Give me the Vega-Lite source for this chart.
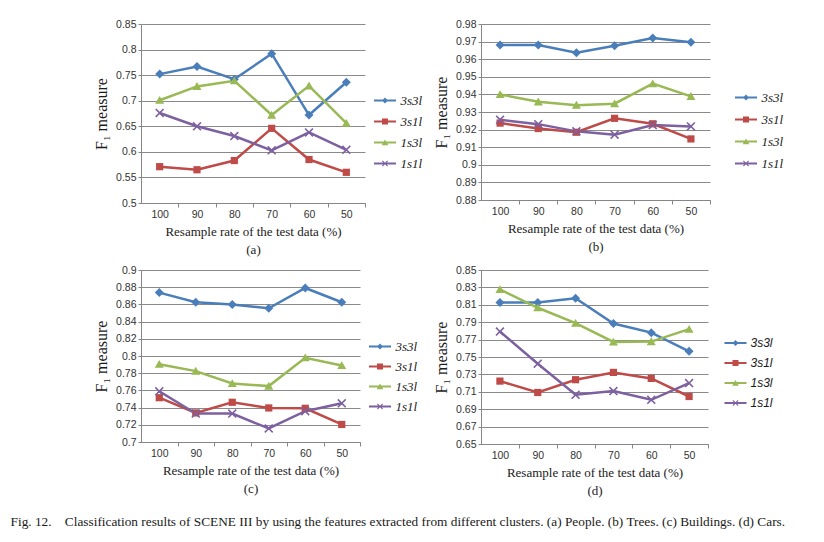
{
  "$schema": "https://vega.github.io/schema/vega-lite/v6.json",
  "padding": {"left": 10, "top": 19, "right": 5, "bottom": 5},
  "config": {
    "view": {"stroke": null},
    "font": "Liberation Serif",
    "axis": {
      "domainColor": "#868686", "tickColor": "#868686", "gridColor": "#8a8a8a",
      "labelFont": "Liberation Sans", "labelFontSize": 10.5, "labelColor": "#333333",
      "titleFont": "Liberation Serif", "titleFontWeight": "normal", "titleColor": "#1a1a1a"
    }
  },
  "datasets": {
    "a": [
      {"rate": 100, "series": "3s3l", "f1": 0.752}, {"rate": 90, "series": "3s3l", "f1": 0.767}, {"rate": 80, "series": "3s3l", "f1": 0.742}, {"rate": 70, "series": "3s3l", "f1": 0.792}, {"rate": 60, "series": "3s3l", "f1": 0.672}, {"rate": 50, "series": "3s3l", "f1": 0.736},
      {"rate": 100, "series": "3s1l", "f1": 0.571}, {"rate": 90, "series": "3s1l", "f1": 0.565}, {"rate": 80, "series": "3s1l", "f1": 0.583}, {"rate": 70, "series": "3s1l", "f1": 0.646}, {"rate": 60, "series": "3s1l", "f1": 0.585}, {"rate": 50, "series": "3s1l", "f1": 0.560},
      {"rate": 100, "series": "1s3l", "f1": 0.701}, {"rate": 90, "series": "1s3l", "f1": 0.728}, {"rate": 80, "series": "1s3l", "f1": 0.739}, {"rate": 70, "series": "1s3l", "f1": 0.672}, {"rate": 60, "series": "1s3l", "f1": 0.729}, {"rate": 50, "series": "1s3l", "f1": 0.656},
      {"rate": 100, "series": "1s1l", "f1": 0.676}, {"rate": 90, "series": "1s1l", "f1": 0.650}, {"rate": 80, "series": "1s1l", "f1": 0.631}, {"rate": 70, "series": "1s1l", "f1": 0.603}, {"rate": 60, "series": "1s1l", "f1": 0.638}, {"rate": 50, "series": "1s1l", "f1": 0.604}
    ],
    "b": [
      {"rate": 100, "series": "3s3l", "f1": 0.968}, {"rate": 90, "series": "3s3l", "f1": 0.968}, {"rate": 80, "series": "3s3l", "f1": 0.9637}, {"rate": 70, "series": "3s3l", "f1": 0.9677}, {"rate": 60, "series": "3s3l", "f1": 0.972}, {"rate": 50, "series": "3s3l", "f1": 0.9696},
      {"rate": 100, "series": "3s1l", "f1": 0.9237}, {"rate": 90, "series": "3s1l", "f1": 0.9206}, {"rate": 80, "series": "3s1l", "f1": 0.9185}, {"rate": 70, "series": "3s1l", "f1": 0.9264}, {"rate": 60, "series": "3s1l", "f1": 0.9233}, {"rate": 50, "series": "3s1l", "f1": 0.9147},
      {"rate": 100, "series": "1s3l", "f1": 0.940}, {"rate": 90, "series": "1s3l", "f1": 0.9358}, {"rate": 80, "series": "1s3l", "f1": 0.9339}, {"rate": 70, "series": "1s3l", "f1": 0.9347}, {"rate": 60, "series": "1s3l", "f1": 0.9461}, {"rate": 50, "series": "1s3l", "f1": 0.9389},
      {"rate": 100, "series": "1s1l", "f1": 0.9256}, {"rate": 90, "series": "1s1l", "f1": 0.9231}, {"rate": 80, "series": "1s1l", "f1": 0.919}, {"rate": 70, "series": "1s1l", "f1": 0.9171}, {"rate": 60, "series": "1s1l", "f1": 0.9226}, {"rate": 50, "series": "1s1l", "f1": 0.9218}
    ],
    "c": [
      {"rate": 100, "series": "3s3l", "f1": 0.8737}, {"rate": 90, "series": "3s3l", "f1": 0.8625}, {"rate": 80, "series": "3s3l", "f1": 0.8598}, {"rate": 70, "series": "3s3l", "f1": 0.8555}, {"rate": 60, "series": "3s3l", "f1": 0.8791}, {"rate": 50, "series": "3s3l", "f1": 0.8625},
      {"rate": 100, "series": "3s1l", "f1": 0.7515}, {"rate": 90, "series": "3s1l", "f1": 0.7338}, {"rate": 80, "series": "3s1l", "f1": 0.7462}, {"rate": 70, "series": "3s1l", "f1": 0.7396}, {"rate": 60, "series": "3s1l", "f1": 0.7392}, {"rate": 50, "series": "3s1l", "f1": 0.7204},
      {"rate": 100, "series": "1s3l", "f1": 0.7905}, {"rate": 90, "series": "1s3l", "f1": 0.7824}, {"rate": 80, "series": "1s3l", "f1": 0.768}, {"rate": 70, "series": "1s3l", "f1": 0.765}, {"rate": 60, "series": "1s3l", "f1": 0.798}, {"rate": 50, "series": "1s3l", "f1": 0.789},
      {"rate": 100, "series": "1s1l", "f1": 0.759}, {"rate": 90, "series": "1s1l", "f1": 0.733}, {"rate": 80, "series": "1s1l", "f1": 0.733}, {"rate": 70, "series": "1s1l", "f1": 0.7157}, {"rate": 60, "series": "1s1l", "f1": 0.7358}, {"rate": 50, "series": "1s1l", "f1": 0.745}
    ],
    "d": [
      {"rate": 100, "series": "3s3l", "f1": 0.8127}, {"rate": 90, "series": "3s3l", "f1": 0.8127}, {"rate": 80, "series": "3s3l", "f1": 0.8176}, {"rate": 70, "series": "3s3l", "f1": 0.7885}, {"rate": 60, "series": "3s3l", "f1": 0.778}, {"rate": 50, "series": "3s3l", "f1": 0.7566},
      {"rate": 100, "series": "3s1l", "f1": 0.7223}, {"rate": 90, "series": "3s1l", "f1": 0.7092}, {"rate": 80, "series": "3s1l", "f1": 0.7239}, {"rate": 70, "series": "3s1l", "f1": 0.7323}, {"rate": 60, "series": "3s1l", "f1": 0.7254}, {"rate": 50, "series": "3s1l", "f1": 0.7046},
      {"rate": 100, "series": "1s3l", "f1": 0.8277}, {"rate": 90, "series": "1s3l", "f1": 0.8066}, {"rate": 80, "series": "1s3l", "f1": 0.7889}, {"rate": 70, "series": "1s3l", "f1": 0.7673}, {"rate": 60, "series": "1s3l", "f1": 0.7677}, {"rate": 50, "series": "1s3l", "f1": 0.782},
      {"rate": 100, "series": "1s1l", "f1": 0.7793}, {"rate": 90, "series": "1s1l", "f1": 0.7423}, {"rate": 80, "series": "1s1l", "f1": 0.7066}, {"rate": 70, "series": "1s1l", "f1": 0.7108}, {"rate": 60, "series": "1s1l", "f1": 0.7008}, {"rate": 50, "series": "1s1l", "f1": 0.72}
    ]
  },
  "title": {
    "text": "Fig. 12.\u00a0\u00a0\u00a0 Classification results of SCENE III by using the features extracted from different clusters. (a) People. (b) Trees. (c) Buildings. (d) Cars.",
    "orient": "bottom", "anchor": "start", "font": "Liberation Serif", "fontSize": 13.3, "fontWeight": "normal", "color": "#1a1a1a", "dx": -83, "offset": 17
  },
  "spacing": 8,
  "vconcat": [
    {
      "spacing": 10,
      "hconcat": [
        {
          "width": 224, "height": 179,
          "data": {"name": "a"},
          "encoding": {
            "x": {"field": "rate", "type": "ordinal", "sort": [100, 90, 80, 70, 60, 50],
                  "axis": {"title": ["Resample rate of the test data (%)", "(a)"], "labelAngle": 0, "tickOffset": 18.67, "labelOffset": -18.67, "tickSize": 4, "labelPadding": 2, "titleFontSize": 13, "titleLineHeight": 18, "titlePadding": 6, "grid": false}},
            "y": {"field": "f1", "type": "quantitative", "scale": {"domain": [0.5, 0.85], "nice": false, "zero": false},
                  "axis": {"title": "F\u2081 measure", "values": [0.5, 0.55, 0.6, 0.65, 0.7, 0.75, 0.8, 0.85], "format": ".2~f", "tickSize": 3, "labelPadding": 2, "titleFontSize": 16, "titlePadding": 6, "grid": true}}
          },
          "layer": [
            {"mark": {"type": "line", "strokeWidth": 2.5},
             "encoding": {"color": {"field": "series", "type": "nominal", "scale": {"domain": ["3s3l", "3s1l", "1s3l", "1s1l"], "range": ["#4A7EBB", "#BE4B48", "#98B954", "#7D60A0"]}, "legend": null}}},
            {"mark": {"type": "point", "filled": true, "opacity": 1, "size": 81, "strokeWidth": 0},
             "encoding": {
               "color": {"field": "series", "type": "nominal", "scale": {"domain": ["3s3l", "3s1l", "1s3l", "1s1l"], "range": ["#4A7EBB", "#BE4B48", "#98B954", "#7D60A0"]}, "legend": null},
               "shape": {"field": "series", "type": "nominal", "scale": {"domain": ["3s3l", "3s1l", "1s3l", "1s1l"], "range": ["M0,-1L1,0L0,1L-1,0Z", "M-0.8,-0.8H0.8V0.8H-0.8Z", "M0,-0.95L1,0.8H-1Z", "M-1,-0.75L-0.75,-1L0,-0.25L0.75,-1L1,-0.75L0.25,0L1,0.75L0.75,1L0,0.25L-0.75,1L-1,0.75L-0.25,0Z"]}, "legend": null}}},
            {"transform": [{"filter": "false"}],
             "mark": {"type": "point", "filled": true, "opacity": 1, "strokeWidth": 0},
             "encoding": {
               "color": {"field": "series", "type": "nominal", "scale": {"domain": ["3s3l", "3s1l", "1s3l", "1s1l"], "range": ["#4A7EBB", "#BE4B48", "#98B954", "#7D60A0"]},
                         "legend": {"orient": "none", "legendX": 235, "legendY": 70, "title": null, "symbolSize": 36, "symbolOffset": 2.5, "labelOffset": 9, "rowPadding": 7, "padding": 0, "labelFont": "Liberation Serif", "labelFontStyle": "italic", "labelFontSize": 13, "labelColor": "#1a1a1a", "symbolStrokeWidth": 0}},
               "shape": {"field": "series", "type": "nominal", "scale": {"domain": ["3s3l", "3s1l", "1s3l", "1s1l"], "range": ["M-3.67,-0.37H3.67V0.37H-3.67Z M0,-1L1,0L0,1L-1,0Z", "M-3.67,-0.37H3.67V0.37H-3.67Z M-1,-1H1V1H-1Z", "M-3.67,-0.37H3.67V0.37H-3.67Z M0,-1L1.1,0.9H-1.1Z", "M-3.67,-0.37H3.67V0.37H-3.67Z M-1,-0.75L-0.75,-1L0,-0.25L0.75,-1L1,-0.75L0.25,0L1,0.75L0.75,1L0,0.25L-0.75,1L-1,0.75L-0.25,0Z"]},
                         "legend": {"orient": "none", "legendX": 235, "legendY": 70, "title": null, "symbolSize": 36, "symbolOffset": 2.5, "labelOffset": 9, "rowPadding": 7, "padding": 0, "labelFont": "Liberation Serif", "labelFontStyle": "italic", "labelFontSize": 13, "labelColor": "#1a1a1a", "symbolStrokeWidth": 0}}}}
          ],
          "resolve": {"scale": {"color": "independent", "shape": "independent"}}
        },
        {
          "width": 229, "height": 176,
          "data": {"name": "b"},
          "encoding": {
            "x": {"field": "rate", "type": "ordinal", "sort": [100, 90, 80, 70, 60, 50],
                  "axis": {"title": ["Resample rate of the test data (%)", "(b)"], "labelAngle": 0, "tickOffset": 19.08, "labelOffset": -19.08, "tickSize": 4, "labelPadding": 2, "titleFontSize": 13, "titleLineHeight": 18, "titlePadding": 6, "grid": false}},
            "y": {"field": "f1", "type": "quantitative", "scale": {"domain": [0.88, 0.98], "nice": false, "zero": false},
                  "axis": {"title": "F\u2081 measure", "values": [0.88, 0.89, 0.9, 0.91, 0.92, 0.93, 0.94, 0.95, 0.96, 0.97, 0.98], "format": ".2~f", "tickSize": 3, "labelPadding": 2, "titleFontSize": 16, "titlePadding": 6, "grid": true}}
          },
          "layer": [
            {"mark": {"type": "line", "strokeWidth": 2.5},
             "encoding": {"color": {"field": "series", "type": "nominal", "scale": {"domain": ["3s3l", "3s1l", "1s3l", "1s1l"], "range": ["#4A7EBB", "#BE4B48", "#98B954", "#7D60A0"]}, "legend": null}}},
            {"mark": {"type": "point", "filled": true, "opacity": 1, "size": 81, "strokeWidth": 0},
             "encoding": {
               "color": {"field": "series", "type": "nominal", "scale": {"domain": ["3s3l", "3s1l", "1s3l", "1s1l"], "range": ["#4A7EBB", "#BE4B48", "#98B954", "#7D60A0"]}, "legend": null},
               "shape": {"field": "series", "type": "nominal", "scale": {"domain": ["3s3l", "3s1l", "1s3l", "1s1l"], "range": ["M0,-1L1,0L0,1L-1,0Z", "M-0.8,-0.8H0.8V0.8H-0.8Z", "M0,-0.95L1,0.8H-1Z", "M-1,-0.75L-0.75,-1L0,-0.25L0.75,-1L1,-0.75L0.25,0L1,0.75L0.75,1L0,0.25L-0.75,1L-1,0.75L-0.25,0Z"]}, "legend": null}}},
            {"transform": [{"filter": "false"}],
             "mark": {"type": "point", "filled": true, "opacity": 1, "strokeWidth": 0},
             "encoding": {
               "color": {"field": "series", "type": "nominal", "scale": {"domain": ["3s3l", "3s1l", "1s3l", "1s1l"], "range": ["#4A7EBB", "#BE4B48", "#98B954", "#7D60A0"]},
                         "legend": {"orient": "none", "legendX": 256, "legendY": 67, "title": null, "symbolSize": 36, "symbolOffset": 2.5, "labelOffset": 9, "rowPadding": 8, "padding": 0, "labelFont": "Liberation Serif", "labelFontStyle": "italic", "labelFontSize": 13, "labelColor": "#1a1a1a", "symbolStrokeWidth": 0}},
               "shape": {"field": "series", "type": "nominal", "scale": {"domain": ["3s3l", "3s1l", "1s3l", "1s1l"], "range": ["M-3.67,-0.37H3.67V0.37H-3.67Z M0,-1L1,0L0,1L-1,0Z", "M-3.67,-0.37H3.67V0.37H-3.67Z M-1,-1H1V1H-1Z", "M-3.67,-0.37H3.67V0.37H-3.67Z M0,-1L1.1,0.9H-1.1Z", "M-3.67,-0.37H3.67V0.37H-3.67Z M-1,-0.75L-0.75,-1L0,-0.25L0.75,-1L1,-0.75L0.25,0L1,0.75L0.75,1L0,0.25L-0.75,1L-1,0.75L-0.25,0Z"]},
                         "legend": {"orient": "none", "legendX": 256, "legendY": 67, "title": null, "symbolSize": 36, "symbolOffset": 2.5, "labelOffset": 9, "rowPadding": 8, "padding": 0, "labelFont": "Liberation Serif", "labelFontStyle": "italic", "labelFontSize": 13, "labelColor": "#1a1a1a", "symbolStrokeWidth": 0}}}}
          ],
          "resolve": {"scale": {"color": "independent", "shape": "independent"}}
        }
      ]
    },
    {
      "spacing": 15,
      "hconcat": [
        {
          "width": 219, "height": 172,
          "data": {"name": "c"},
          "encoding": {
            "x": {"field": "rate", "type": "ordinal", "sort": [100, 90, 80, 70, 60, 50],
                  "axis": {"title": ["Resample rate of the test data (%)", "(c)"], "labelAngle": 0, "tickOffset": 18.25, "labelOffset": -18.25, "tickSize": 4, "labelPadding": 2, "titleFontSize": 13, "titleLineHeight": 18, "titlePadding": 6, "grid": false}},
            "y": {"field": "f1", "type": "quantitative", "scale": {"domain": [0.7, 0.9], "nice": false, "zero": false},
                  "axis": {"title": "F\u2081 measure", "values": [0.7, 0.72, 0.74, 0.76, 0.78, 0.8, 0.82, 0.84, 0.86, 0.88, 0.9], "format": ".2~f", "tickSize": 3, "labelPadding": 2, "titleFontSize": 16, "titlePadding": 6, "grid": true}}
          },
          "layer": [
            {"mark": {"type": "line", "strokeWidth": 2.5},
             "encoding": {"color": {"field": "series", "type": "nominal", "scale": {"domain": ["3s3l", "3s1l", "1s3l", "1s1l"], "range": ["#4A7EBB", "#BE4B48", "#98B954", "#7D60A0"]}, "legend": null}}},
            {"mark": {"type": "point", "filled": true, "opacity": 1, "size": 81, "strokeWidth": 0},
             "encoding": {
               "color": {"field": "series", "type": "nominal", "scale": {"domain": ["3s3l", "3s1l", "1s3l", "1s1l"], "range": ["#4A7EBB", "#BE4B48", "#98B954", "#7D60A0"]}, "legend": null},
               "shape": {"field": "series", "type": "nominal", "scale": {"domain": ["3s3l", "3s1l", "1s3l", "1s1l"], "range": ["M0,-1L1,0L0,1L-1,0Z", "M-0.8,-0.8H0.8V0.8H-0.8Z", "M0,-0.95L1,0.8H-1Z", "M-1,-0.75L-0.75,-1L0,-0.25L0.75,-1L1,-0.75L0.25,0L1,0.75L0.75,1L0,0.25L-0.75,1L-1,0.75L-0.25,0Z"]}, "legend": null}}},
            {"transform": [{"filter": "false"}],
             "mark": {"type": "point", "filled": true, "opacity": 1, "strokeWidth": 0},
             "encoding": {
               "color": {"field": "series", "type": "nominal", "scale": {"domain": ["3s3l", "3s1l", "1s3l", "1s1l"], "range": ["#4A7EBB", "#BE4B48", "#98B954", "#7D60A0"]},
                         "legend": {"orient": "none", "legendX": 230, "legendY": 70, "title": null, "symbolSize": 36, "symbolOffset": 2.5, "labelOffset": 9, "rowPadding": 6, "padding": 0, "labelFont": "Liberation Serif", "labelFontStyle": "italic", "labelFontSize": 13, "labelColor": "#1a1a1a", "symbolStrokeWidth": 0}},
               "shape": {"field": "series", "type": "nominal", "scale": {"domain": ["3s3l", "3s1l", "1s3l", "1s1l"], "range": ["M-3.67,-0.37H3.67V0.37H-3.67Z M0,-1L1,0L0,1L-1,0Z", "M-3.67,-0.37H3.67V0.37H-3.67Z M-1,-1H1V1H-1Z", "M-3.67,-0.37H3.67V0.37H-3.67Z M0,-1L1.1,0.9H-1.1Z", "M-3.67,-0.37H3.67V0.37H-3.67Z M-1,-0.75L-0.75,-1L0,-0.25L0.75,-1L1,-0.75L0.25,0L1,0.75L0.75,1L0,0.25L-0.75,1L-1,0.75L-0.25,0Z"]},
                         "legend": {"orient": "none", "legendX": 230, "legendY": 70, "title": null, "symbolSize": 36, "symbolOffset": 2.5, "labelOffset": 9, "rowPadding": 6, "padding": 0, "labelFont": "Liberation Serif", "labelFontStyle": "italic", "labelFontSize": 13, "labelColor": "#1a1a1a", "symbolStrokeWidth": 0}}}}
          ],
          "resolve": {"scale": {"color": "independent", "shape": "independent"}}
        },
        {
          "width": 227, "height": 174,
          "data": {"name": "d"},
          "encoding": {
            "x": {"field": "rate", "type": "ordinal", "sort": [100, 90, 80, 70, 60, 50],
                  "axis": {"title": ["Resample rate of the test data (%)", "(d)"], "labelAngle": 0, "tickOffset": 18.92, "labelOffset": -18.92, "tickSize": 4, "labelPadding": 2, "titleFontSize": 13, "titleLineHeight": 18, "titlePadding": 6, "grid": false}},
            "y": {"field": "f1", "type": "quantitative", "scale": {"domain": [0.65, 0.85], "nice": false, "zero": false},
                  "axis": {"title": "F\u2081 measure", "values": [0.65, 0.67, 0.69, 0.71, 0.73, 0.75, 0.77, 0.79, 0.81, 0.83, 0.85], "format": ".2~f", "tickSize": 3, "labelPadding": 2, "titleFontSize": 16, "titlePadding": 6, "grid": true}}
          },
          "layer": [
            {"mark": {"type": "line", "strokeWidth": 2.5},
             "encoding": {"color": {"field": "series", "type": "nominal", "scale": {"domain": ["3s3l", "3s1l", "1s3l", "1s1l"], "range": ["#4A7EBB", "#BE4B48", "#98B954", "#7D60A0"]}, "legend": null}}},
            {"mark": {"type": "point", "filled": true, "opacity": 1, "size": 81, "strokeWidth": 0},
             "encoding": {
               "color": {"field": "series", "type": "nominal", "scale": {"domain": ["3s3l", "3s1l", "1s3l", "1s1l"], "range": ["#4A7EBB", "#BE4B48", "#98B954", "#7D60A0"]}, "legend": null},
               "shape": {"field": "series", "type": "nominal", "scale": {"domain": ["3s3l", "3s1l", "1s3l", "1s1l"], "range": ["M0,-1L1,0L0,1L-1,0Z", "M-0.8,-0.8H0.8V0.8H-0.8Z", "M0,-0.95L1,0.8H-1Z", "M-1,-0.75L-0.75,-1L0,-0.25L0.75,-1L1,-0.75L0.25,0L1,0.75L0.75,1L0,0.25L-0.75,1L-1,0.75L-0.25,0Z"]}, "legend": null}}},
            {"transform": [{"filter": "false"}],
             "mark": {"type": "point", "filled": true, "opacity": 1, "strokeWidth": 0},
             "encoding": {
               "color": {"field": "series", "type": "nominal", "scale": {"domain": ["3s3l", "3s1l", "1s3l", "1s1l"], "range": ["#4A7EBB", "#BE4B48", "#98B954", "#7D60A0"]},
                         "legend": {"orient": "none", "legendX": 246, "legendY": 67, "title": null, "symbolSize": 36, "symbolOffset": 2.5, "labelOffset": 9, "rowPadding": 8, "padding": 0, "labelFont": "Liberation Sans", "labelFontStyle": "italic", "labelFontSize": 12, "labelColor": "#1a1a1a", "symbolStrokeWidth": 0}},
               "shape": {"field": "series", "type": "nominal", "scale": {"domain": ["3s3l", "3s1l", "1s3l", "1s1l"], "range": ["M-3.67,-0.37H3.67V0.37H-3.67Z M0,-1L1,0L0,1L-1,0Z", "M-3.67,-0.37H3.67V0.37H-3.67Z M-1,-1H1V1H-1Z", "M-3.67,-0.37H3.67V0.37H-3.67Z M0,-1L1.1,0.9H-1.1Z", "M-3.67,-0.37H3.67V0.37H-3.67Z M-1,-0.75L-0.75,-1L0,-0.25L0.75,-1L1,-0.75L0.25,0L1,0.75L0.75,1L0,0.25L-0.75,1L-1,0.75L-0.25,0Z"]},
                         "legend": {"orient": "none", "legendX": 246, "legendY": 67, "title": null, "symbolSize": 36, "symbolOffset": 2.5, "labelOffset": 9, "rowPadding": 8, "padding": 0, "labelFont": "Liberation Sans", "labelFontStyle": "italic", "labelFontSize": 12, "labelColor": "#1a1a1a", "symbolStrokeWidth": 0}}}}
          ],
          "resolve": {"scale": {"color": "independent", "shape": "independent"}}
        }
      ]
    }
  ]
}
